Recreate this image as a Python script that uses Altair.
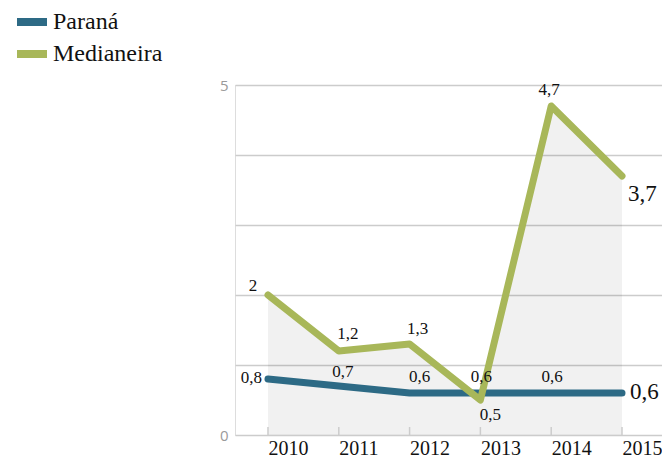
import altair as alt
import pandas as pd

years = [2010, 2011, 2012, 2013, 2014, 2015]
series_names = ["Paraná", "Medianeira"]
parana = [0.8, 0.7, 0.6, 0.6, 0.6, 0.6]
medianeira = [2, 1.2, 1.3, 0.5, 4.7, 3.7]
grid_values = [0, 1, 2, 3, 4, 5]
colors = ["#2d6a85", "#a8b759"]

rows = []
for y, v in zip(years, parana):
    rows.append({"year": y, "series": "Paraná", "value": v})
for y, v in zip(years, medianeira):
    rows.append({"year": y, "series": "Medianeira", "value": v})
df = pd.DataFrame(rows)
df_med = df[df.series == "Medianeira"]
df_ticks = pd.DataFrame({"year": years})

FONT = "Liberation Serif"
x_scale = alt.Scale(domain=[2009.534, 2015.565], nice=False, zero=False)
y_scale = alt.Scale(domain=[0, 5], nice=False)

x_enc = alt.X("year:Q", scale=x_scale,
              axis=alt.Axis(values=years, format="d", title=None, grid=False,
                            domain=False, ticks=False, labelAlign="left",
                            labelBaseline="top", labelPadding=3,
                            labelFont=FONT, labelFontSize=20, labelColor="#111"))
y_enc = alt.Y("value:Q", scale=y_scale,
              axis=alt.Axis(values=grid_values, title=None, domain=False, ticks=False,
                            format="d",
                            labelExpr="datum.value == 0 || datum.value == 5 ? datum.label : ''",
                            labelColor="#9a9a9a", labelFont="Open Sans", labelFontSize=15,
                            labelPadding=7, gridColor="#cccccc", gridWidth=1.5))

area = alt.Chart(df_med).mark_area(color="#000000", opacity=0.055).encode(x=x_enc, y=y_enc)

ticks = alt.Chart(df_ticks).mark_rule(color="#cccccc", strokeWidth=1.5).encode(
    x=alt.X("year:Q", scale=x_scale),
    y=alt.value(350), y2=alt.value(342))

lines = alt.Chart(df).mark_line(strokeWidth=7, strokeCap="round", strokeJoin="round").encode(
    x=alt.X("year:Q", scale=x_scale),
    y=alt.Y("value:Q", scale=y_scale),
    color=alt.Color("series:N", scale=alt.Scale(domain=series_names, range=colors),
                    legend=alt.Legend(title=None, orient="none", legendX=-215, legendY=-75,
                                      symbolType="M-2,0L2,0", symbolStrokeWidth=8, symbolSize=225,
                                      labelFont=FONT, labelFontSize=24, labelColor="#111",
                                      labelOffset=9, rowPadding=0, padding=0)),
    order=alt.Order("year:Q"),
)

# label placement styles: (series, year) -> (dx, dy, align, size)
label_style = {
    ("Paraná", 2010): (-6, -1, "right", 17),
    ("Paraná", 2011): (4, -14, "center", 17),
    ("Paraná", 2012): (10, -16, "center", 17),
    ("Paraná", 2013): (1, -16, "center", 17),
    ("Paraná", 2014): (1, -16, "center", 17),
    ("Paraná", 2015): (8, -1, "left", 23),
    ("Medianeira", 2010): (-15, -9, "center", 17),
    ("Medianeira", 2011): (9, -17, "center", 17),
    ("Medianeira", 2012): (8, -15, "center", 17),
    ("Medianeira", 2013): (10, 15, "center", 17),
    ("Medianeira", 2014): (-2, -16, "center", 17),
    ("Medianeira", 2015): (6, 18, "left", 23),
}

text_layers = []
for (s, yr), (dx, dy, al, sz) in label_style.items():
    t = alt.Chart(df).transform_filter(
        (alt.datum.series == s) & (alt.datum.year == yr)
    ).transform_calculate(
        lab="replace(format(datum.value, '.1~f'), '.', ',')"
    ).mark_text(dx=dx, dy=dy, align=al, baseline="middle", font=FONT,
                fontSize=sz, color="#111").encode(
        x=alt.X("year:Q", scale=x_scale),
        y=alt.Y("value:Q", scale=y_scale),
        text="lab:N",
    )
    text_layers.append(t)

chart = alt.layer(area, ticks, lines, *text_layers).properties(
    width=427, height=350,
    autosize=alt.AutoSizeParams(type="none"),
    padding={"left": 227, "top": 77, "right": 0, "bottom": 24},
).configure_view(stroke=None).configure(background="white")

chart.save("out.html", embed_options={"renderer": "svg", "actions": False})
